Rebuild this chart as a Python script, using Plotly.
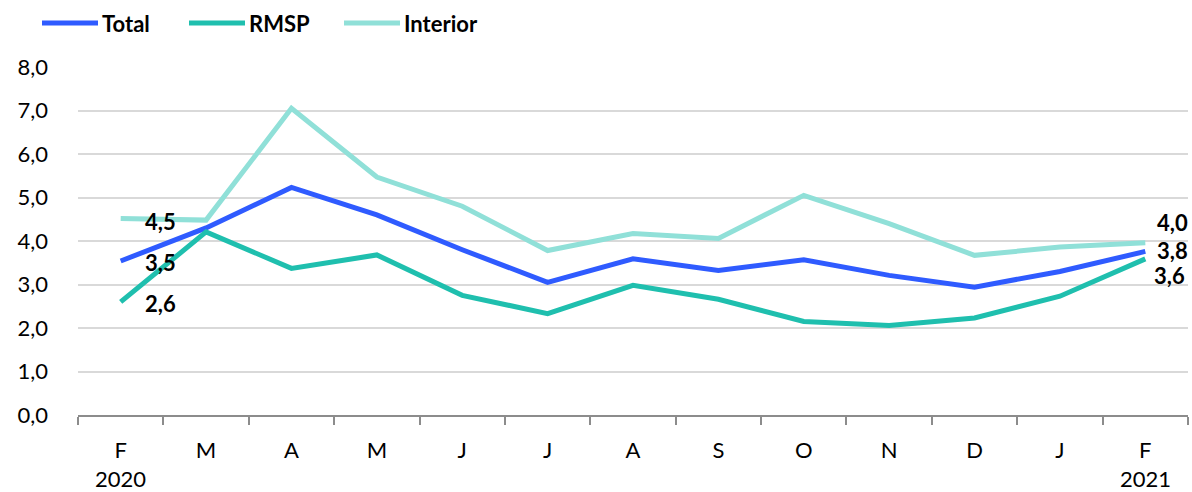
import plotly.graph_objects as go

months = ["F", "M", "A", "M", "J", "J", "A", "S", "O", "N", "D", "J", "F"]
total = [3.54, 4.30, 5.23, 4.60, 3.80, 3.05, 3.59, 3.32, 3.57, 3.21, 2.94, 3.30, 3.76]
rmsp = [2.60, 4.21, 3.37, 3.68, 2.75, 2.33, 2.98, 2.66, 2.15, 2.06, 2.23, 2.73, 3.59]
interior = [4.52, 4.48, 7.05, 5.47, 4.80, 3.78, 4.17, 4.06, 5.05, 4.40, 3.67, 3.86, 3.96]
years = ["2020", "2021"]
yticks = [0, 1, 2, 3, 4, 5, 6, 7, 8]

series = [
    ("Total", total, "#2F5BFF"),
    ("RMSP", rmsp, "#1FBFAE"),
    ("Interior", interior, "#90E0D8"),
]

# layout geometry (pixels)
W, H = 1192, 492
ML, MR, MT, MB = 78, 4, 67, 77
PW, PH = W - ML - MR, H - MT - MB

def px(x):
    return (x - ML) / PW

def py(y):
    return (H - MB - y) / PH

xs = list(range(len(months)))
font_family = "Lato, 'Open Sans', sans-serif"

fig = go.Figure()
for name, vals, col in series:
    fig.add_trace(go.Scatter(
        x=xs, y=vals, name=name, mode="lines",
        line=dict(color=col, width=5), showlegend=False,
    ))

def fmt(v):
    return f"{v:.1f}".replace(".", ",")

ann = []
shapes = []
first_shift = {"Total": (23, -1), "RMSP": (23, -2), "Interior": (23, -3)}
last_shift = {"Total": (11, 1), "RMSP": (8, -17), "Interior": (11, 20)}
for name, vals, col in series:
    dx, dy = first_shift[name]
    ann.append(dict(x=xs[0], y=vals[0], xref="x", yref="y", text="<b>" + fmt(vals[0]) + "</b>",
                    showarrow=False, xanchor="left", yanchor="middle", xshift=dx, yshift=dy,
                    borderpad=0, font=dict(size=22, color="black", family=font_family)))
    dx, dy = last_shift[name]
    ann.append(dict(x=xs[-1], y=vals[-1], xref="x", yref="y", text="<b>" + fmt(vals[-1]) + "</b>",
                    showarrow=False, xanchor="left", yanchor="middle", xshift=dx, yshift=dy,
                    borderpad=0, font=dict(size=22, color="black", family=font_family)))
# year labels
for xi, yr in zip([xs[0], xs[-1]], years):
    ann.append(dict(x=xi, y=py(478), xref="x", yref="paper", text=yr, showarrow=False,
                    xanchor="center", yanchor="middle", borderpad=0,
                    font=dict(size=22, color="black", family=font_family)))

# custom legend
legend_x = [42, 189, 344]
for (name, vals, col), lx in zip(series, legend_x):
    shapes.append(dict(type="line", xref="paper", yref="paper",
                       x0=px(lx), x1=px(lx + 56), y0=py(23), y1=py(23),
                       line=dict(color=col, width=5)))
    ann.append(dict(x=px(lx + 59), y=py(23), xref="paper", yref="paper",
                    text="<b>" + name + "</b>", showarrow=False,
                    xanchor="left", yanchor="middle", borderpad=0,
                    font=dict(size=22, color="black", family=font_family)))

fig.update_layout(
    width=W, height=H,
    margin=dict(l=ML, r=MR, t=MT, b=MB),
    paper_bgcolor="white", plot_bgcolor="white",
    font=dict(family=font_family, size=22, color="black"),
    showlegend=False,
    annotations=ann, shapes=shapes,
)
fig.update_xaxes(
    range=[-0.5, len(months) - 0.5],
    tickvals=xs, ticktext=months, ticks="", showgrid=False,
    showline=True, linecolor="#8C8C8C", linewidth=2,
    minor=dict(tick0=-0.5, dtick=1, ticks="outside", ticklen=8, tickcolor="#8C8C8C", tickwidth=2),
    ticklabelstandoff=15, tickfont=dict(size=22), zeroline=False,
)
fig.update_yaxes(
    range=[0, 8], tickvals=yticks, ticktext=[fmt(v) for v in yticks],
    showgrid=True, gridcolor="#D9D9D9", gridwidth=2, zeroline=False,
    showline=False, ticks="", ticklabelstandoff=29, tickfont=dict(size=22),
)
fig.write_html("out.html")
